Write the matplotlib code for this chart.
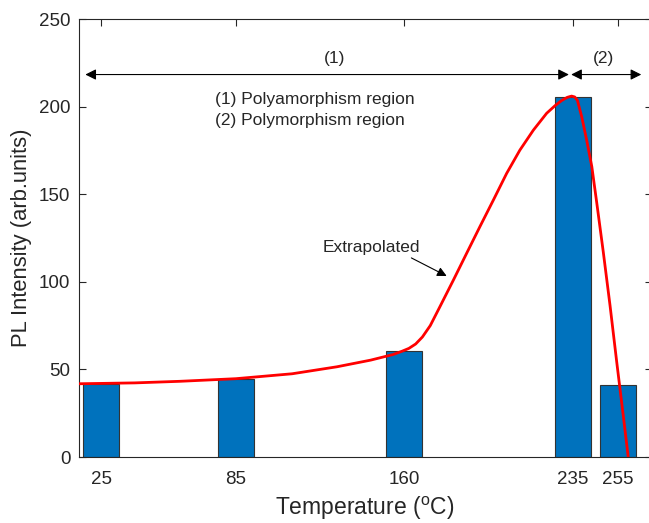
import matplotlib
matplotlib.use('Agg')
import matplotlib.pyplot as plt

plt.rcParams['font.family'] = ['Liberation Sans', 'DejaVu Sans']
plt.rcParams['mathtext.fontset'] = 'custom'
plt.rcParams['mathtext.rm'] = 'Liberation Sans'

# measured PL intensity
temps = [25, 85, 160, 235, 255]
intensity = [41.8, 44.7, 60.5, 205.7, 41.0]
tick_labels = ['25', '85', '160', '235', '255']

# extrapolated curve
curve_x = [15, 40, 60, 85, 110, 130, 145, 155, 159, 162, 165, 168, 171.5, 175.8,
           181.8, 187.7, 193.6, 199.6, 205.5, 211.4, 217.4, 223.3, 227, 230,
           232.5, 234.4, 235.8, 237, 238.9, 241.1, 243.4, 245.6, 248.5, 251.5,
           254.5, 257.4, 259.6]
curve_y = [41.8, 42.3, 43.2, 44.7, 47.5, 51.5, 55.3, 58.5, 60.4, 62, 64.5, 68.5,
           75, 85.8, 101, 116.3, 131.5, 146.7, 161.9, 175.2, 186.6, 196.2, 200.5,
           203.5, 205.3, 206, 205.5, 203.5, 194.2, 180.9, 165.7, 145, 117, 86.5,
           54, 23.5, 0]

fig = plt.figure(figsize=(6.49, 5.23), dpi=100)
ax = fig.add_axes([78.6 / 649, 66 / 523, 573 / 649, 438 / 523])

dark = '#262626'
ax.bar(temps, intensity, width=16, color='#0072BD', edgecolor='#333333', linewidth=0.8, zorder=2)
ax.plot(curve_x, curve_y, color='red', linewidth=2, zorder=3,
        solid_joinstyle='round', solid_capstyle='butt')

ax.set_xlim(15, 270)
ax.set_ylim(0, 250)
ax.set_xticks(temps)
ax.set_xticklabels(tick_labels)
ax.set_yticks([0, 50, 100, 150, 200, 250])
ax.tick_params(direction='in', top=True, right=True, length=5, width=0.8,
               colors=dark, labelsize=13.5)
ax.tick_params(axis='x', pad=10)
ax.tick_params(axis='y', pad=6)
for s in ax.spines.values():
    s.set_color(dark)
    s.set_linewidth(0.8)

ax.set_xlabel('Temperature ($^{\\mathrm{o}}$C)', fontsize=16.5, color=dark, labelpad=5)
ax.set_ylabel('PL Intensity (arb.units)', fontsize=15.8, color=dark, labelpad=5)

# region arrows
arr = dict(arrowstyle='<|-|>', color='black', lw=0.8, mutation_scale=16, shrinkA=0, shrinkB=0)
ax.annotate('', xy=(233.2, 218.3), xytext=(18, 218.3), arrowprops=arr)
ax.annotate('', xy=(265.4, 218.3), xytext=(234.2, 218.3), arrowprops=arr)
ax.text(128.7, 227.6, '(1)', ha='center', va='center', fontsize=12.5, color=dark)
ax.text(248.4, 227.6, '(2)', ha='center', va='center', fontsize=12.5, color=dark)
ax.text(75.7, 204, '(1) Polyamorphism region', ha='left', va='center', fontsize=12.5, color=dark)
ax.text(75.7, 192, '(2) Polymorphism region', ha='left', va='center', fontsize=12.5, color=dark)

ax.annotate('Extrapolated', xy=(178.8, 103.3), xytext=(123.8, 119.5),
            fontsize=12.5, color=dark, va='center', ha='left',
            arrowprops=dict(arrowstyle='-|>', color='black', lw=0.8, mutation_scale=14,
                            shrinkA=0, shrinkB=0, relpos=(0.85, 0)))

fig.savefig('out.png', dpi=100)
